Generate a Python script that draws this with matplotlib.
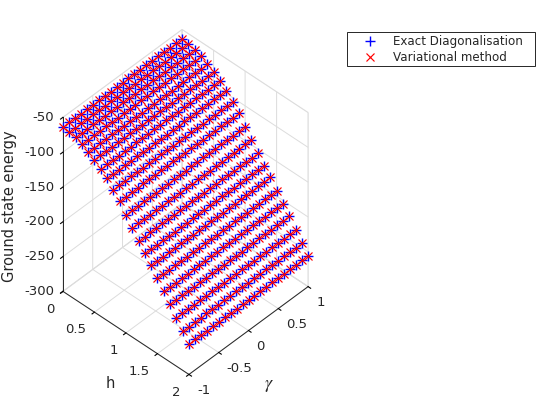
import numpy as np
import matplotlib
matplotlib.use("Agg")
import matplotlib.pyplot as plt
from matplotlib.patches import Rectangle
from matplotlib.transforms import ScaledTranslation

h = [0, 0.1, 0.2, 0.3, 0.4, 0.5, 0.6, 0.7, 0.8, 0.9, 1.0,
     1.1, 1.2, 1.3, 1.4, 1.5, 1.6, 1.7, 1.8, 1.9, 2.0]
gamma = [-1, -0.9, -0.8, -0.7, -0.6, -0.5, -0.4, -0.3, -0.2, -0.1, 0,
         0.1, 0.2, 0.3, 0.4, 0.5, 0.6, 0.7, 0.8, 0.9, 1]
energy_exact = [-63.5, -65, -67, -70.5, -76, -81, -88, -96, -106, -116.5, -130,
                -143, -156, -168, -179, -192, -204.5, -217, -230.5, -243.5, -256]
energy_var = [-63.5, -65, -67, -70.5, -76, -81, -88, -96, -106, -116.5, -130,
              -143, -156, -168, -179, -192, -204.5, -217, -230.5, -243.5, -256]

h_ticks = [0, 0.5, 1, 1.5, 2]
gamma_ticks = [-1, -0.5, 0, 0.5, 1]
energy_ticks = [-300, -250, -200, -150, -100, -50]
h_labels = ["0", "0.5", "1", "1.5", "2"]
gamma_labels = ["-1", "-0.5", "0", "0.5", "1"]
energy_labels = ["-300", "-250", "-200", "-150", "-100", "-50"]

dark = "#262626"
light = "#dcdcdc"
plt.rcParams["mathtext.fontset"] = "stix"

fig = plt.figure(figsize=(5.6, 4.2), dpi=100)
ax = fig.add_axes([13.5 / 560, 46 / 420, 335 / 560, 335 / 420], projection="3d")
ax.set_proj_type("ortho")
ax.view_init(elev=44.2, azim=-46.6)
ax.set_box_aspect((1, 1, 1.4))
ax.patch.set_alpha(0)
ax.computed_zorder = False

# clip_on off: the top of the box sticks out of the axes rectangle
for i, g in enumerate(gamma):
    ax.plot(h, [g] * len(h), energy_exact, ls="none", marker="+", color="#0000ff", clip_on=False,
            ms=7.2, mew=1.0, zorder=5, label="Exact Diagonalisation" if i == 0 else None)
for i, g in enumerate(gamma):
    ax.plot(h, [g] * len(h), energy_var, ls="none", marker="x", color="#ff0000", clip_on=False,
            ms=5.8, mew=0.85, zorder=6, label="Variational method" if i == 0 else None)

ax.set_xlim(0, 2)
ax.set_ylim(-1, 1)
ax.set_zlim(-300, -50)
ax.set_xticks(h_ticks)
ax.set_yticks(gamma_ticks)
ax.set_zticks(energy_ticks)
ax.set_xticklabels(h_labels, ha="right", va="center")
ax.set_yticklabels(gamma_labels, ha="left", va="center")
ax.set_zticklabels(energy_labels, ha="right", va="center")
ax.tick_params(axis="x", pad=0.5, labelsize=9.5, labelcolor=dark)
ax.tick_params(axis="y", pad=0, labelsize=9.5, labelcolor=dark)
ax.tick_params(axis="z", pad=-3.5, labelsize=9.5, labelcolor=dark)
ax.zaxis.set_ticks_position("lower")
ax.zaxis.set_label_position("lower")

# nudge h and energy tick labels up, the 3d axis can only move them away from the box
for lbl in ax.get_xticklabels() + ax.get_zticklabels():
    lbl.set_transform(lbl.get_transform() + ScaledTranslation(0, 2.5 / 100, fig.dpi_scale_trans))

for axis in (ax.xaxis, ax.yaxis, ax.zaxis):
    axis.pane.set_facecolor((1, 1, 1, 0))
    axis.pane.set_edgecolor(light)
    axis.pane.set_linewidth(0.7)
    axis.line.set_color(dark)
    axis.line.set_linewidth(0.7)
    axis._axinfo["grid"].update(color=light, linewidth=0.7)
    axis._axinfo["tick"].update(inward_factor=0.25, outward_factor=0.0, color=dark)
    axis.set_rotate_label(False)

fig.text(10 / 560, 1 - 206 / 420, "Ground state energy", rotation=90, fontsize=10.5,
         color=dark, ha="center", va="center")
fig.text(110 / 560, 1 - 384 / 420, "h", fontsize=10.5, color=dark, ha="center", va="center")
fig.text(269 / 560, 1 - 385 / 420, r"$\gamma$", fontsize=13, color=dark, ha="center", va="center")

# frame drawn apart from the legend, it is wider than the text needs
fig.add_artist(Rectangle((346.5 / 560, 1 - 66 / 420), 188.5 / 560, 34 / 420, transform=fig.transFigure,
                         facecolor="white", edgecolor=dark, linewidth=0.7, zorder=-1))
leg = ax.legend(loc="upper left", bbox_to_anchor=(346.5 / 560, 1 - 32.5 / 420),
                bbox_transform=fig.transFigure, fontsize=8.6, numpoints=1, frameon=False,
                borderaxespad=0, borderpad=0.22, handlelength=3.5, handletextpad=0.18, labelspacing=0.22)
for text in leg.get_texts():
    text.set_color(dark)

fig.savefig("out.png", dpi=100)
